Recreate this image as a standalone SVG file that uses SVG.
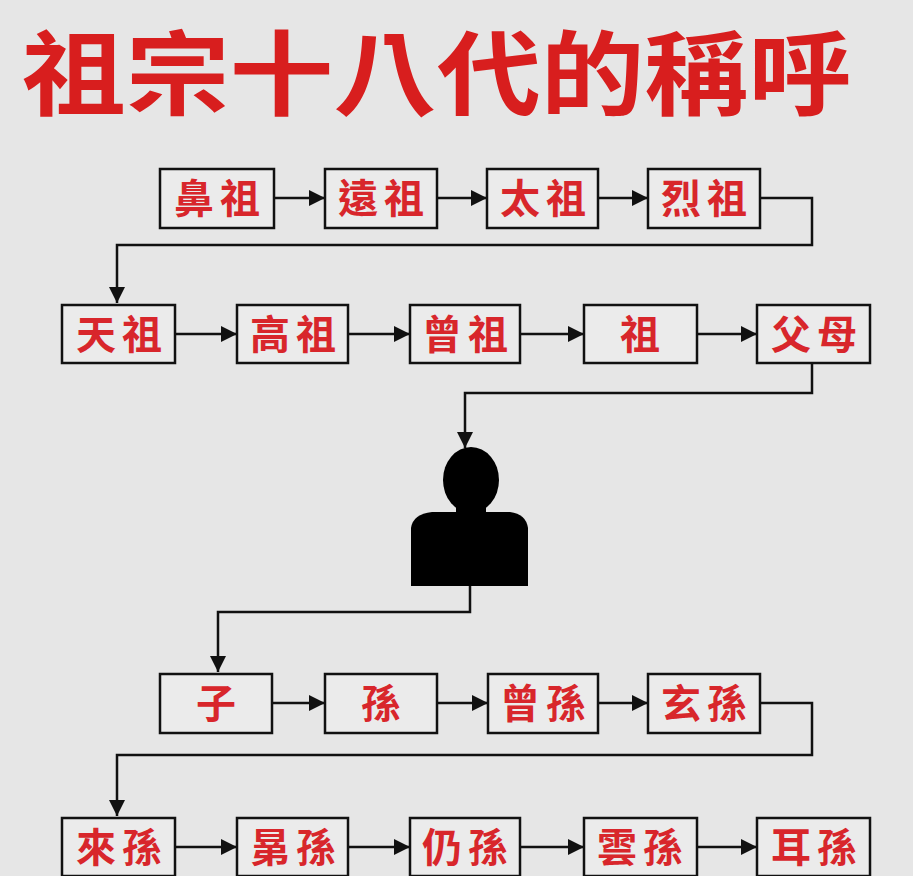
<svg xmlns="http://www.w3.org/2000/svg" width="913" height="876" viewBox="0 0 913 876">
<style>
.b{fill:#ebebeb;stroke:#111;stroke-width:2.5}
.t{fill:#d8262b;font-family:"Noto Sans CJK TC","Noto Sans CJK SC",sans-serif;font-size:40px;font-weight:bold;text-anchor:middle;letter-spacing:6px}
.c{fill:none;stroke:#111;stroke-width:2.5}
.h{fill:#d81e1e;font-family:"Noto Sans CJK TC","Noto Sans CJK SC",sans-serif;font-size:92px;font-weight:bold}
</style>
<defs><marker id="m" viewBox="0 0 10 10" refX="10" refY="5" markerWidth="18" markerHeight="16" markerUnits="userSpaceOnUse" orient="auto"><path d="M0,0L10,5L0,10z" fill="#111"/></marker></defs>
<rect width="913" height="876" fill="#e6e6e6"/>
<text class="h" x="22" y="108" textLength="830" lengthAdjust="spacingAndGlyphs">祖宗十八代的稱呼</text>
<g id="connectors" class="c" marker-end="url(#m)">
<path d="M274,198H325"/><path d="M437,198H487"/><path d="M598,198H648"/>
<path d="M760,198H812V245H117V303"/>
<path d="M175,334H237"/><path d="M348,334H410"/><path d="M520,334H584"/><path d="M697,334H757"/>
<path d="M812,364V393H465V448"/>
<path d="M470,586V612H218V672"/>
<path d="M272,703H325"/><path d="M437,703H488"/><path d="M598,703H648"/>
<path d="M760,703H812V755H117V816"/>
<path d="M175,847H237"/><path d="M348,847H410"/><path d="M520,847H584"/><path d="M697,847H757"/>
</g>
<g id="n1"><rect class="b" x="160" y="169" width="114" height="59"/><text class="t" x="220" y="213">鼻祖</text></g>
<g id="n2"><rect class="b" x="325" y="169" width="112" height="59"/><text class="t" x="384" y="213">遠祖</text></g>
<g id="n3"><rect class="b" x="487" y="169" width="111" height="59"/><text class="t" x="546" y="213">太祖</text></g>
<g id="n4"><rect class="b" x="648" y="169" width="112" height="59"/><text class="t" x="707" y="213">烈祖</text></g>
<g id="n5"><rect class="b" x="62" y="305" width="113" height="58"/><text class="t" x="122" y="349">天祖</text></g>
<g id="n6"><rect class="b" x="237" y="305" width="111" height="58"/><text class="t" x="296" y="349">高祖</text></g>
<g id="n7"><rect class="b" x="410" y="305" width="110" height="58"/><text class="t" x="468" y="349">曾祖</text></g>
<g id="n8"><rect class="b" x="584" y="305" width="113" height="58"/><text class="t" x="643" y="349">祖</text></g>
<g id="n9"><rect class="b" x="757" y="305" width="113" height="58"/><text class="t" x="817" y="349">父母</text></g>
<g id="person" fill="#000"><ellipse cx="471" cy="480" rx="28" ry="33"/><rect x="456" y="500" width="30" height="16"/><path d="M432,512H510Q526,514 528,528V586H411V528Q413,514 432,512Z"/></g>
<g id="n10"><rect class="b" x="160" y="674" width="112" height="59"/><text class="t" x="219" y="718">子</text></g>
<g id="n11"><rect class="b" x="325" y="674" width="112" height="59"/><text class="t" x="384" y="718">孫</text></g>
<g id="n12"><rect class="b" x="488" y="674" width="110" height="59"/><text class="t" x="546" y="718">曾孫</text></g>
<g id="n13"><rect class="b" x="648" y="674" width="112" height="59"/><text class="t" x="707" y="718">玄孫</text></g>
<g id="n14"><rect class="b" x="62" y="818" width="113" height="58"/><text class="t" x="122" y="862">來孫</text></g>
<g id="n15"><rect class="b" x="237" y="818" width="111" height="58"/><text class="t" x="296" y="862">晜孫</text></g>
<g id="n16"><rect class="b" x="410" y="818" width="110" height="58"/><text class="t" x="468" y="862">仍孫</text></g>
<g id="n17"><rect class="b" x="584" y="818" width="113" height="58"/><text class="t" x="643" y="862">雲孫</text></g>
<g id="n18"><rect class="b" x="757" y="818" width="113" height="58"/><text class="t" x="817" y="862">耳孫</text></g>
</svg>
